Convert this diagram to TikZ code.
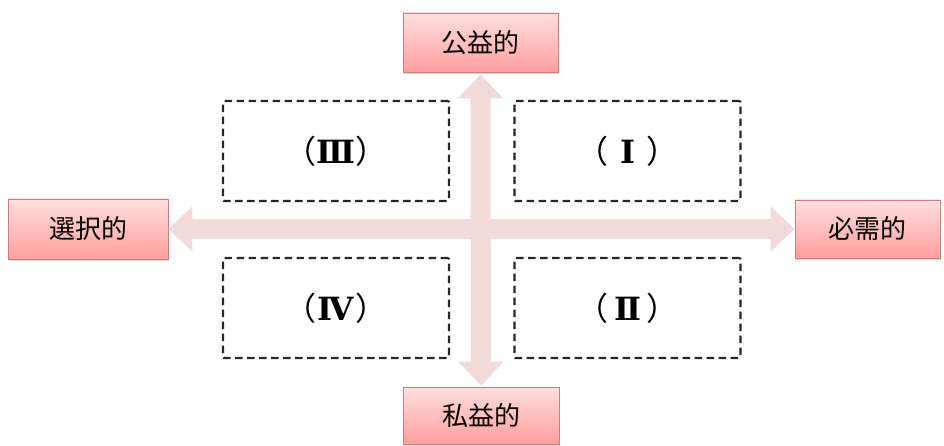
\documentclass[tikz,border=0pt]{standalone}
\usepackage{fontspec}
\setmainfont{Noto Sans CJK JP}
\newfontfamily\numfont{DejaVu Serif}
\usetikzlibrary{arrows.meta,shadows}

\definecolor{boxtop}{HTML}{FFDEDE}
\definecolor{boxbot}{HTML}{FF9E9E}
\definecolor{boxedge}{HTML}{CF7B7B}
\definecolor{axispink}{HTML}{F3DADA}

\newlength\numwd
\newcommand{\quadlabel}[1]{\settowidth\numwd{\numfont\bfseries Ⅲ}%
  （\makebox[\numwd]{\numfont\bfseries #1}）}

\tikzset{
  pinkbox/.style={draw=boxedge, line width=0.8pt, top color=boxtop, bottom color=boxbot,
    inner sep=0pt, font=\fontsize{26}{30}\selectfont,
    drop shadow={shadow xshift=1pt, shadow yshift=-2pt, opacity=0.3}},
  quadbox/.style={draw=black!85, line width=2.2pt, dash pattern=on 7.5pt off 4.5pt, rounded corners=1pt,
    minimum width=226pt, minimum height=100pt, inner sep=0pt, font=\fontsize{32}{36}\selectfont},
  axisarrow/.style={draw=axispink, line width=20pt,
    {Triangle[width=44pt,length=24pt]}-{Triangle[width=44pt,length=24pt]}}
}

\begin{document}
\begin{tikzpicture}[x=1pt,y=-1pt]
  \useasboundingbox (0,0) rectangle (944,446);

  % axis labels
  \node[pinkbox, minimum width=155pt, minimum height=59pt] (public)  at (480.5,42.5) {公益的};
  \node[pinkbox, minimum width=156pt, minimum height=57pt] (private) at (481,415.5)  {私益的};
  \node[pinkbox, minimum width=160pt, minimum height=60pt] (choice)  at (88,229)     {選択的};
  \node[pinkbox, minimum width=145pt, minimum height=58pt] (need)    at (867.5,229)  {必需的};

  % axes
  \draw[axisarrow] (choice.east) -- (need.west);
  \draw[axisarrow] ([yshift=-2pt]public.south) -- ([yshift=1pt]private.north);

  % quadrants
  \node[quadbox] (q3) at (336,151)   {\quadlabel{Ⅲ}};
  \node[quadbox] (q1) at (627.5,151) {\quadlabel{Ⅰ}};
  \node[quadbox] (q4) at (336,308)   {\quadlabel{Ⅳ}};
  \node[quadbox] (q2) at (627.5,308) {\quadlabel{Ⅱ}};
\end{tikzpicture}
\end{document}
